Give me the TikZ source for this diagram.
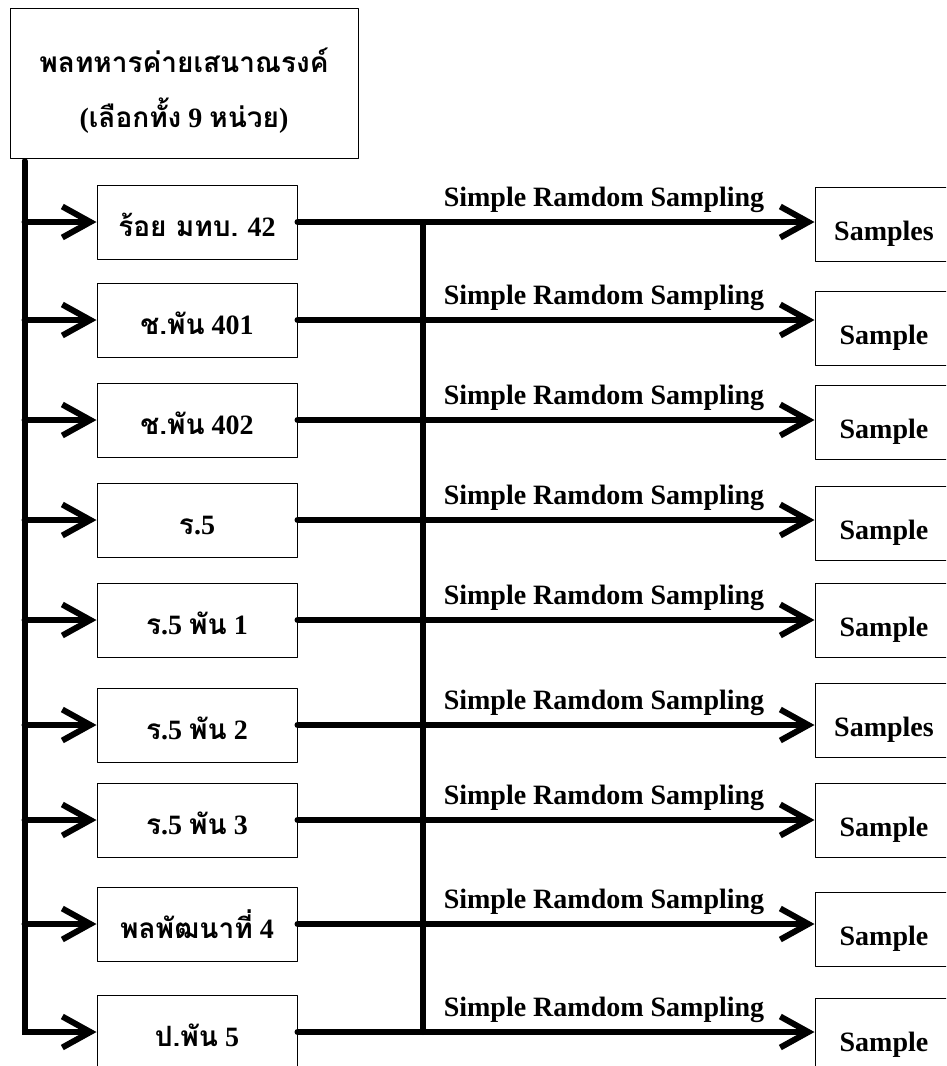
\documentclass[tikz,border=0pt]{standalone}
\usepackage{fontspec}
\setmainfont{Liberation Serif}
\newfontfamily\thaifont[Script=Thai]{Loma}
\usetikzlibrary{arrows.meta}
\newcommand{\tha}[1]{{\thaifont #1}}

\begin{document}
\begin{tikzpicture}[x=1pt, y=-1pt, line join=round, line cap=round,
		font=\fontsize{28}{34}\selectfont\bfseries,
		>={Straight Barb[length=28pt,width=31pt]},
		unit/.style={draw, line width=1pt, minimum width=200pt, minimum height=74pt, inner sep=0pt, text height=32pt, text depth=4pt},
		sampbox/.style={draw, line width=1pt, minimum width=138pt, minimum height=74pt, inner sep=0pt, text height=36pt, text depth=4pt},
		bold line/.style={line width=6pt}]
		\useasboundingbox (0,0) rectangle (946,1066);
		\clip (0,0) rectangle (946,1066);
		\node[draw, line width=1pt, minimum width=348pt, minimum height=150pt, align=center] (top) at (184,83)
		{\rule{0pt}{40pt}\tha{พลทหารค่ายเสนาณรงค์}\\[21pt](\tha{เลือกทั้ง} 9 \tha{หน่วย})};
		\coordinate (trunk) at (24.5,161);
		\coordinate (bar) at (423,220);
		% units, sampling arrows and samples
		\foreach \i/\y/\ry/\txt/\smp in {
			1/222/224/{\tha{ร้อย มทบ.} 42}/Samples,
			2/320/328/{\tha{ช.พัน} 401}/Sample,
			3/420/422/{\tha{ช.พัน} 402}/Sample,
			4/520/523/{\tha{ร}.5}/Sample,
			5/620/620/{\tha{ร}.5 \tha{พัน} 1}/Sample,
			6/725/720/{\tha{ร}.5 \tha{พัน} 2}/Samples,
			7/820/820/{\tha{ร}.5 \tha{พัน} 3}/Sample,
			8/924/929/{\tha{พลพัฒนาที่} 4}/Sample,
			9/1032/1035/{\tha{ป.พัน} 5}/Sample}{
			\node[unit] (u\i) at (197,\y) {\txt};
			\node[sampbox] (r\i) at (884,\ry) {\smp};
			\draw[bold line,->] (u\i.east) -- (u\i.east -| r\i.west);
			\node[anchor=base, inner sep=0pt] (srs\i) at (604,\y-16) {Simple Ramdom Sampling};
		}
		\foreach \i in {1,...,8} \draw[bold line,->] (trunk |- u\i.west) -- (u\i.west);
		\draw[bold line,line join=miter,->] (trunk) |- (u9.west);
		\draw[bold line] (bar |- u1.east) -- (bar |- u9.east);
\end{tikzpicture}
\end{document}
